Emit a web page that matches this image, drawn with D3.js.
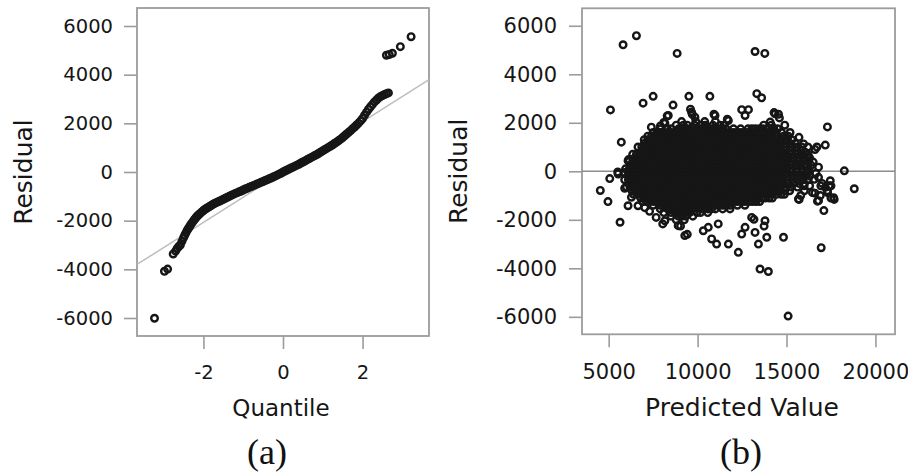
<!DOCTYPE html>
<html><head><meta charset="utf-8">
<script src="https://cdn.jsdelivr.net/npm/d3@7"></script>
<style>body{margin:0;background:#fff;} svg{display:block;}</style>
</head><body>
<svg id="chart" width="908" height="473"></svg>
<script>
// ---------- Panel (a): normal Q-Q plot of residuals ----------
const qqQuantile = [-3.23,-2.98,-2.90,-2.76,-2.70,-2.66,-2.62,-2.58,-2.54,-2.50,-2.47,-2.44,-2.41,-2.38,-2.35,-2.32,-2.29,-2.26,-2.23,-2.20,-2.17,-2.14,-2.11,-2.08,-2.04,-2.00,-1.96,-1.92,-1.88,-1.84,-1.80,-1.76,-1.72,-1.68,-1.64,-1.60,-1.55,-1.50,-1.45,-1.40,-1.35,-1.30,-1.25,-1.20,-1.15,-1.10,-1.05,-1.00,-0.95,-0.90,-0.85,-0.80,-0.75,-0.70,-0.65,-0.60,-0.55,-0.50,-0.45,-0.40,-0.35,-0.30,-0.25,-0.20,-0.15,-0.10,-0.05,0.00,0.05,0.10,0.15,0.20,0.25,0.30,0.35,0.40,0.45,0.50,0.55,0.60,0.65,0.70,0.75,0.80,0.85,0.90,0.95,1.00,1.05,1.10,1.15,1.20,1.25,1.30,1.35,1.40,1.45,1.50,1.55,1.60,1.65,1.70,1.75,1.80,1.85,1.90,1.95,2.00,2.05,2.10,2.15,2.20,2.25,2.30,2.35,2.40,2.45,2.50,2.55,2.60,2.65,2.60,2.67,2.75,2.95,3.22];
const qqResidual = [-6010,-4080,-3990,-3370,-3250,-3140,-3060,-3000,-2850,-2700,-2600,-2500,-2400,-2320,-2250,-2170,-2100,-2030,-1960,-1900,-1840,-1790,-1740,-1700,-1640,-1580,-1530,-1490,-1450,-1410,-1370,-1330,-1290,-1260,-1230,-1200,-1160,-1120,-1080,-1040,-1000,-960,-920,-880,-850,-810,-780,-740,-700,-670,-630,-600,-560,-530,-490,-460,-420,-390,-350,-320,-280,-250,-210,-170,-130,-90,-50,0,40,80,120,160,200,240,280,320,370,410,450,500,540,590,630,680,720,770,820,870,920,970,1020,1070,1120,1180,1230,1290,1350,1420,1490,1560,1630,1700,1780,1850,1930,2010,2100,2200,2330,2460,2580,2680,2780,2880,2960,3040,3100,3140,3180,3220,3250,4800,4830,4880,5150,5560];
const qqRefLine = [[-3.67,-3800],[3.67,3800]];
const qqXTicks = [-2,0,2];
const residualTicks = [-6000,-4000,-2000,0,2000,4000,6000];

// ---------- Panel (b): residual vs predicted value ----------
const scatterOutliers = [
[5810,5215],[6560,5590],[8850,4860],[13230,4940],[13780,4860],
[5100,2530],[6935,2810],[7500,3090],[8620,2730],[9510,3090],[10690,3090],
[13330,3200],[13600,3030],[12480,2540],[12860,2540],[12670,2300],
[8350,2300],[8160,1980],[9660,2440],[9850,2230],[10980,2300],[11730,2090],
[14360,2370],[14080,2030],[7400,1820],[5710,1200],[6090,440],[6130,490],
[5530,-110],[5510,-30],[5060,-300],[4530,-790],[4960,-1250],[5640,-2100],
[17300,1830],[17180,1080],[16710,1000],[15960,1130],[16050,790],
[16800,170],[16800,-250],[17180,-660],[17460,-390],[16800,-1210],[17100,-1620],[15670,-1140],[16950,-3150],
[18250,20],[18810,-720],[17650,-1090],[16740,-1230],
[8160,-2040],[8910,-2240],[9280,-2650],[10320,-2450],[10790,-2790],[11070,-3000],[11730,-3000],
[12290,-3340],[12480,-2590],[13230,-2520],[13420,-3000],[13890,-2720],[13790,-2040],[14830,-2720],
[13510,-4030],[13980,-4130],[15090,-5970],
[7670,-1900],[8040,-2170],[11160,-2170],[10600,-2310],[13040,-1900],[12670,-2310],
[9040,-2260],[9420,-2600],[13740,-2260],[13170,-1980],[15710,-1160],
[5900,-700],[6280,-1070],[6090,-1420],[6650,-1420],[7030,-1500],[7300,-1650],
[16200,600],[16500,380],[16650,-80],[16300,-600],[16000,-800],[15800,-1000],[16600,-900],[17000,-500],
[17300,-800],[17500,-1100],[16900,-1000],[17400,-600],[16600,900],[16200,1000],[15700,1400],[15200,1600],
[14900,1900],[14600,2200],[14300,2420],[14550,2350],[11670,2150],[10920,2350],[9600,2560],[9700,2350],
[8290,2280],[8100,2010],[7910,1870],
[16180,-50],[16560,-330],[16930,-600],[17310,-880],[17500,-600],[17680,-1160],[16460,-880],[15990,-600]
];
const cloudResidualLevels = [2050,1900,1750,1600,1450,1300,1150,1000,850,700,550,400,250,100,-50,-200,-350,-500,-650,-800,-950,-1100,-1250,-1400,-1550,-1700,-1850,-2000];
const cloudPredicted = [
[9100,9900,10400,11000],
[8800,9200,9420,9830,10240,10430,10860,11270,11480,13720,14150],
[7900,8300,8520,8930,9120,9340,9540,9750,9950,10160,10370,10570,10790,10980,11200,11390,11610,12020,12420,12840,13050,13250,13470,13660,13880,14290,14500],
[7500,7720,7910,8130,8330,8540,8740,8950,9150,9360,9560,9780,9970,10190,10380,10600,10800,11010,11210,11420,11620,11840,12030,12250,12440,12660,12860,13070,13270,13480,13680,13900,14100,14400,14720],
[7200,7410,7600,7820,8020,8230,8430,8640,8840,9060,9250,9470,9660,9880,10080,10290,10490,10700,10900,11120,11310,11530,11720,11940,12140,12350,12550,12760,12960,13180,13370,13590,13780,14000,14200,14500,14830,15100],
[7000,7200,7420,7610,7830,8030,8240,8440,8660,8850,9070,9270,9480,9680,9890,10090,10310,10500,10720,10910,11130,11330,11540,11740,11950,12150,12370,12560,12780,12970,13190,13390,13600,13800,14010,14210,14430,14700,15030,15300],
[7010,7210,7430,7620,7840,8040,8250,8450,8670,8860,9080,9280,9490,9690,9900,10100,10320,10510,10730,10920,11140,11340,11550,11750,11960,12160,12380,12570,12790,12980,13200,13400,13610,13810,14020,14220,14440,14630,14900,15200,15500],
[6650,6860,7060,7270,7470,7690,7880,8100,8300,8510,8710,8920,9120,9340,9530,9750,9940,10160,10360,10570,10770,10980,11180,11400,11590,11810,12000,12220,12420,12630,12830,13040,13240,13460,13650,13870,14060,14280,14480,14690,14990,15300,15600,15860],
[6860,7070,7270,7480,7680,7900,8090,8310,8500,8720,8920,9130,9330,9540,9740,9960,10150,10370,10560,10780,10980,11190,11390,11600,11800,12020,12210,12430,12620,12840,13040,13250,13450,13660,13860,14080,14270,14490,14680,14900,15200,15510,15800],
[6350,6560,6760,6970,7170,7390,7580,7800,7990,8210,8410,8620,8820,9030,9230,9450,9640,9860,10050,10270,10470,10680,10880,11090,11290,11510,11700,11920,12110,12330,12530,12740,12940,13150,13350,13570,13760,13980,14170,14390,14590,14800,15000,15300,15600,15900,16210],
[6460,6660,6870,7070,7290,7480,7700,7890,8110,8310,8520,8720,8930,9130,9350,9540,9760,9950,10170,10370,10580,10780,10990,11190,11410,11600,11820,12010,12230,12430,12640,12840,13050,13250,13470,13660,13880,14070,14290,14490,14700,14900,15110,15400,15720,16000,16300],
[6150,6350,6570,6760,6980,7170,7390,7590,7800,8000,8210,8410,8630,8820,9040,9230,9450,9650,9860,10060,10270,10470,10690,10880,11100,11290,11510,11710,11920,12120,12330,12530,12750,12940,13160,13350,13570,13770,13980,14180,14390,14590,14810,15000,15300,15630,15900,16200],
[6260,6460,6670,6870,7090,7280,7500,7690,7910,8110,8320,8520,8730,8930,9150,9340,9560,9750,9970,10170,10380,10580,10790,10990,11210,11400,11620,11810,12030,12230,12440,12640,12850,13050,13270,13460,13680,13870,14090,14290,14500,14700,14910,15200,15520,15800,16100,16380],
[5950,6160,6360,6570,6770,6990,7180,7400,7590,7810,8010,8220,8420,8630,8830,9050,9240,9460,9650,9870,10070,10280,10480,10690,10890,11110,11300,11520,11710,11930,12130,12340,12540,12750,12950,13170,13360,13580,13770,13990,14190,14400,14600,14810,15010,15300,15600,15900,16250],
[5900,6100,6320,6510,6730,6920,7140,7340,7550,7750,7960,8160,8380,8570,8790,8980,9200,9400,9610,9810,10020,10220,10440,10630,10850,11040,11260,11460,11670,11870,12080,12280,12500,12690,12910,13100,13320,13520,13730,13930,14140,14340,14560,14750,14970,15250,15580,15850,16200],
[6130,6330,6540,6740,6960,7150,7370,7560,7780,7980,8190,8390,8600,8800,9020,9210,9430,9620,9840,10040,10250,10450,10660,10860,11080,11270,11490,11680,11900,12100,12310,12510,12720,12920,13140,13330,13550,13740,13960,14160,14370,14570,14780,15050,15390,15700,16000,16300],
[5900,6110,6310,6520,6720,6940,7130,7350,7540,7760,7960,8170,8370,8580,8780,9000,9190,9410,9600,9820,10020,10230,10430,10640,10840,11060,11250,11470,11660,11880,12080,12290,12490,12700,12900,13120,13310,13530,13720,13940,14140,14350,14550,14760,15000,15300,15600,15900,16200],
[6160,6360,6570,6770,6990,7180,7400,7590,7810,8010,8220,8420,8630,8830,9050,9240,9460,9650,9870,10070,10280,10480,10690,10890,11110,11300,11520,11710,11930,12130,12340,12540,12750,12950,13170,13360,13580,13770,13990,14190,14400,14600,14810,15100,15420,15700,16000],
[6000,6200,6420,6610,6830,7020,7240,7440,7650,7850,8060,8260,8480,8670,8890,9080,9300,9500,9710,9910,10120,10320,10540,10730,10950,11140,11360,11560,11770,11970,12180,12380,12600,12790,13010,13200,13420,13620,13830,14030,14240,14440,14660,14950,15260,15620],
[6310,6510,6720,6920,7140,7330,7550,7740,7960,8160,8370,8570,8780,8980,9200,9390,9610,9800,10020,10220,10430,10630,10840,11040,11260,11450,11670,11860,12080,12280,12490,12690,12900,13100,13320,13510,13730,13920,14140,14340,14600,14900,15180],
[6400,6610,6810,7020,7220,7440,7630,7850,8040,8260,8460,8670,8870,9080,9280,9500,9690,9910,10100,10320,10520,10730,10930,11140,11340,11560,11750,11970,12160,12380,12580,12790,12990,13200,13400,13620,13810,14030,14220,14440,14700,14880],
[6800,7020,7210,7430,7620,7840,8040,8250,8450,8660,8860,9080,9270,9490,9680,9900,10100,10310,10510,10720,10920,11140,11330,11550,11740,11960,12160,12370,12570,12780,12980,13200,13390,13610,13800,14020,14200],
[6900,7110,7310,7520,7720,7940,8130,8350,8540,8760,8960,9170,9370,9580,9780,10000,10190,10410,10600,10820,11020,11230,11430,11640,11840,12060,12250,12470,12660,12880,13080,13290,13490],
[7500,7910,8120,8320,8540,8730,8950,9140,9360,9560,9770,9970,10180,10380,10600,10790,11010,11200,11420,11620,11830,12240,12660],
[7900,8310,8520,8720,8940,9130,9350,9540,9760,10170,10370,10580,10780,11000,11410,11820],
[8100,8510,8720,8920,9140,9330,9550,9960,10160,10570],
[8500,8910,9120,9320,9730],
[8800,9250]
];
const predictedTicks = [5000,10000,15000,20000];

// ---------- drawing ----------
const svg = d3.select("#chart");
const GRAY = "#9c9c9c", INK = "#161616";
const plainFormat = d => String(d);   // ASCII hyphen-minus, as in the original

function drawPanel(o) {
  const x = d3.scaleLinear().domain(o.xDomain).range([o.x0, o.x1]);
  const y = d3.scaleLinear().domain(o.yDomain).range([o.y1, o.y0]);
  const g = svg.append("g");

  const ya = g.append("g").attr("transform", `translate(${o.x0},0)`)
    .call(d3.axisLeft(y).tickValues(residualTicks).tickSize(13).tickPadding(o.yPad).tickFormat(plainFormat));
  ya.select(".domain").remove();
  ya.selectAll(".tick line").attr("stroke", GRAY).attr("stroke-width", 1.6);
  ya.selectAll(".tick text").attr("fill", INK).style("font-family", "DejaVu Sans").style("font-size", o.yFont + "px");

  const xa = g.append("g").attr("transform", `translate(0,${o.y1})`)
    .call(d3.axisBottom(x).tickValues(o.xTicks).tickSize(13).tickFormat(plainFormat));
  xa.select(".domain").remove();
  xa.selectAll(".tick line").attr("stroke", GRAY).attr("stroke-width", 1.6);
  xa.selectAll(".tick text").attr("fill", INK).attr("dy", 0).attr("y", o.xLabBase - o.y1)
    .style("font-family", "DejaVu Sans").style("font-size", o.xFont + "px");

  g.append("rect").attr("x", o.x0).attr("y", o.y0).attr("width", o.x1 - o.x0).attr("height", o.y1 - o.y0)
    .attr("fill", "none").attr("stroke", GRAY).attr("stroke-width", 1.8);

  g.append("path").datum(o.line)
    .attr("d", d3.line().x(d => x(d[0])).y(d => y(d[1])))
    .attr("stroke", o.lineColor).attr("stroke-width", 1.5).attr("fill", "none");

  g.append("g").selectAll("circle").data(o.points).join("circle")
    .attr("cx", d => x(d[0])).attr("cy", d => y(d[1])).attr("r", 3.3)
    .attr("fill", "none").attr("stroke", INK).attr("stroke-width", 2.4);

  g.append("text").attr("transform", `translate(${o.yTitleX},${(o.y0 + o.y1) / 2}) rotate(-90)`)
    .attr("text-anchor", "middle").attr("fill", INK)
    .style("font-family", "DejaVu Sans").style("font-size", "25px").text("Residual");
  g.append("text").attr("x", o.xTitleCx).attr("y", o.xTitleBase).attr("text-anchor", "middle").attr("fill", INK)
    .style("font-family", "DejaVu Sans").style("font-size", o.xTitleFont + "px").text(o.xTitle);
  g.append("text").attr("x", o.capCx).attr("y", 464).attr("text-anchor", "middle").attr("fill", "#111")
    .style("font-family", "Liberation Serif").style("font-size", "36px").text(o.caption);
}

const qqPoints = qqQuantile.map((q, i) => [q, qqResidual[i]]);
drawPanel({
  x0: 137, x1: 429, y0: 8, y1: 336,
  xDomain: [-3.67, 3.67], yDomain: [-6740, 6740],
  xTicks: qqXTicks, yPad: 11, yFont: 19.5, xFont: 19.5, xLabBase: 379,
  line: qqRefLine, lineColor: "#bdbdbd", points: qqPoints,
  yTitleX: 32, xTitle: "Quantile", xTitleCx: 281, xTitleBase: 416, xTitleFont: 23,
  caption: "(a)", capCx: 267
});

const scatterPoints = scatterOutliers.slice();
cloudResidualLevels.forEach((r, i) => cloudPredicted[i].forEach(p => scatterPoints.push([p, r])));
const xDomB = [3500, 21100];
drawPanel({
  x0: 582, x1: 895, y0: 8.3, y1: 334.3,
  xDomain: xDomB, yDomain: [-6720, 6720],
  xTicks: predictedTicks, yPad: 12, yFont: 21, xFont: 21, xLabBase: 379,
  line: [[xDomB[0], 0], [xDomB[1], 0]], lineColor: "#8c8c8c", points: scatterPoints,
  yTitleX: 467, xTitle: "Predicted Value", xTitleCx: 742, xTitleBase: 416, xTitleFont: 25,
  caption: "(b)", capCx: 741
});
</script>
</body></html>
